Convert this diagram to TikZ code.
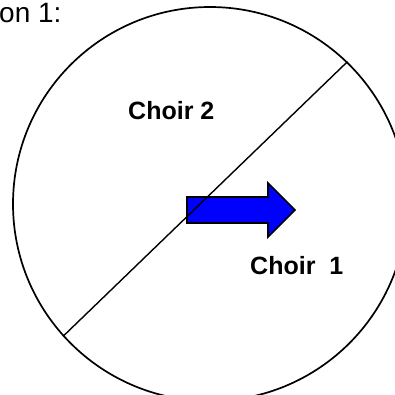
\documentclass[tikz,border=0pt]{standalone}
\usepackage{fontspec}
\setmainfont{Liberation Sans}
\usetikzlibrary{positioning}

\begin{document}
\begin{tikzpicture}[
  x=1pt,
  y=-1pt,
  hall/.style={draw, circle, minimum size=394pt, inner sep=0pt, line width=1.7pt},
  divider/.style={line width=1.4pt},
  choirtext/.style={font=\bfseries\fontsize{25}{30}\selectfont, inner sep=0pt, anchor=base west},
  heading/.style={font=\fontsize{28}{34}\selectfont, inner sep=0pt, anchor=base west},
  facing/.style={draw, fill=blue, line width=1.6pt, line join=miter}
]
\useasboundingbox (0,0) rectangle (395,394);

\node[heading] (title) at (-1,22) {on 1:};

\node[hall] (hall) at (210,204) {};

\node[choirtext] (choirB) at (128,119) {Choir 2};
\node[choirtext] (choirA) at (250,274) {Choir\ \ 1};

% arrow showing the direction the choir faces
\draw[facing] (187,197) -- (268,197) -- (268,183) -- (295,210)
  -- (268,237) -- (268,223) -- (187,223) -- cycle;

\draw[divider] (hall.46) -- (hall.222);
\end{tikzpicture}
\end{document}
